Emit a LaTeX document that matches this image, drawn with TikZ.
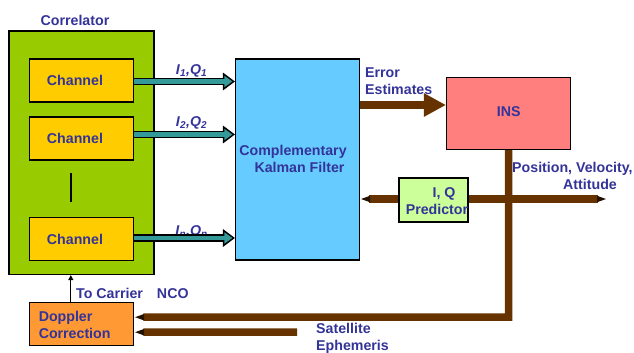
\documentclass[tikz,border=0pt]{standalone}
\usepackage{fontspec}
\setmainfont{Liberation Sans}
\usetikzlibrary{arrows.meta,calc}
\definecolor{txt}{HTML}{333399}
\definecolor{corrgreen}{HTML}{99CC00}
\definecolor{chanyellow}{HTML}{FFCC00}
\definecolor{kfblue}{HTML}{66CCFF}
\definecolor{insred}{HTML}{FF7F7F}
\definecolor{iqgreen}{HTML}{CCFF99}
\definecolor{doporange}{HTML}{FF9933}
\definecolor{brn}{HTML}{663300}
\definecolor{tealc}{HTML}{339999}
\begin{document}
\begin{tikzpicture}[x=1pt,y=-1pt,
  box/.style={draw=black, line width=1.5pt, rectangle, inner sep=0pt},
  lbl/.style={text=txt, font=\fontsize{14.2}{17}\selectfont\bfseries, inner sep=0pt},
  tealarr/.style={draw=tealc, line width=4.5pt, shorten >=2.6pt,
    -{Triangle[length=8pt,width=11pt,color=tealc]},
    preaction={draw=black, line width=7.5pt, shorten >=0pt,
      -{Triangle[length=12pt,width=17pt,color=black]}}},
  brownline/.style={draw=brn, line width=7.5pt},
  smalltip/.style={-{Triangle[length=10pt,width=5.5pt,color=brn!35!black]}},
  thinarr/.style={draw=black, line width=1.1pt, -{Triangle[length=5pt,width=5pt]}}
]
\useasboundingbox (0,0) rectangle (634,353);

% Boxes
\node[box, fill=corrgreen, minimum width=144.7pt, minimum height=243.3pt] (corr) at (81.4,152.7) {};
\node[lbl] (corrlbl) at (75,20) {Correlator};
\node[box, fill=chanyellow, minimum width=104pt, minimum height=43pt,
  label={[lbl,xshift=-6.5pt]center:Channel}] (ch1) at (81.5,80.5) {};
\node[box, fill=chanyellow, minimum width=104pt, minimum height=43pt,
  label={[lbl,xshift=-6.5pt]center:Channel}] (ch2) at (81.5,138.5) {};
\node[box, fill=chanyellow, minimum width=104pt, minimum height=43pt,
  label={[lbl,xshift=-6.5pt]center:Channel}] (ch3) at (81.5,239) {};
\coordinate (dotsA) at (71,173);
\coordinate (dotsB) at (71,202);
\draw[line width=2.7pt] (dotsA) -- (dotsB);

\node[box, fill=kfblue, minimum width=123.6pt, minimum height=200.7pt,
  label={[lbl,align=center,xshift=-4.5pt,yshift=0.5pt]center:Complementary\\\hspace*{13pt}Kalman Filter}] (kf) at (297.5,159.6) {};

\node[box, fill=insred, minimum width=124pt, minimum height=71.6pt,
  label={[lbl,yshift=2pt]center:INS}] (ins) at (508.7,113.5) {};

\node[box, fill=iqgreen, minimum width=69pt, minimum height=44pt,
  label={[lbl,align=center,xshift=3.5pt,yshift=-0.7pt]center:\hspace*{14pt}I, Q\\Predictor}] (iqp) at (433.5,200) {};

\node[box, fill=doporange, minimum width=104pt, minimum height=43pt,
  label={[lbl,align=left,anchor=west,xshift=10pt,yshift=-0.8pt]west:Doppler\\Correction}] (dop) at (81.3,324.2) {};

% Labels
\node[lbl] (iq1) at (191.5,71) {\textit{I}\textsubscript{\textit{1}}\textit{,Q}\textsubscript{\textit{1}}};
\node[lbl] (iq2) at (191.5,123) {\textit{I}\textsubscript{\textit{2}}\textit{,Q}\textsubscript{\textit{2}}};
\node[lbl] (iqn) at (191.5,231.5) {\textit{I}\textsubscript{\textit{n}}\textit{,Q}\textsubscript{\textit{n}}};
\node[lbl, align=left, anchor=west] (errlbl) at (365,81.5) {Error\\Estimates};
\node[lbl, align=left, anchor=west] (pvalbl) at (512,176) {Position, Velocity,\\\hspace*{51pt}Attitude};
\node[lbl, anchor=west] (nco) at (76,293) {To Carrier\hspace{14pt}NCO};
\node[lbl, align=left, anchor=west] (satlbl) at (316,338) {Satellite\\Ephemeris};

% Teal arrows
\draw[tealarr] ([yshift=-1pt]ch1.east) -- (kf.west |- 0,81.5);
\draw[tealarr] ([yshift=4pt]ch2.east) -- (kf.west |- 0,134.5);
\draw[tealarr] ([yshift=1pt]ch3.east) -- (kf.west |- 0,238);

% Brown connectors
\draw[brownline, -{Triangle[length=22pt,width=22pt,color=brn]}] (kf.east |- 0,105) -- (ins.west |- 0,105);
\coordinate (corner) at (ins.south |- 0,317);
\draw[brownline, smalltip] (ins.south) -- (corner) -- ([yshift=7pt]dop.east);
\coordinate (satin) at (297,332);
\draw[brownline, smalltip] (satin) -- ([yshift=-8pt]dop.east);
\draw[brownline, smalltip] ([yshift=1pt]iqp.west) -- (kf.east |- 0,199);
\coordinate (pvaout) at (607,199);
\draw[brownline, smalltip] ([yshift=1pt]iqp.east) -- (pvaout);

% Doppler to correlator
\draw[thinarr] ([xshift=-10.5pt]dop.north) -- ([xshift=-10.5pt]dop.north |- corr.south);
\end{tikzpicture}
\end{document}
